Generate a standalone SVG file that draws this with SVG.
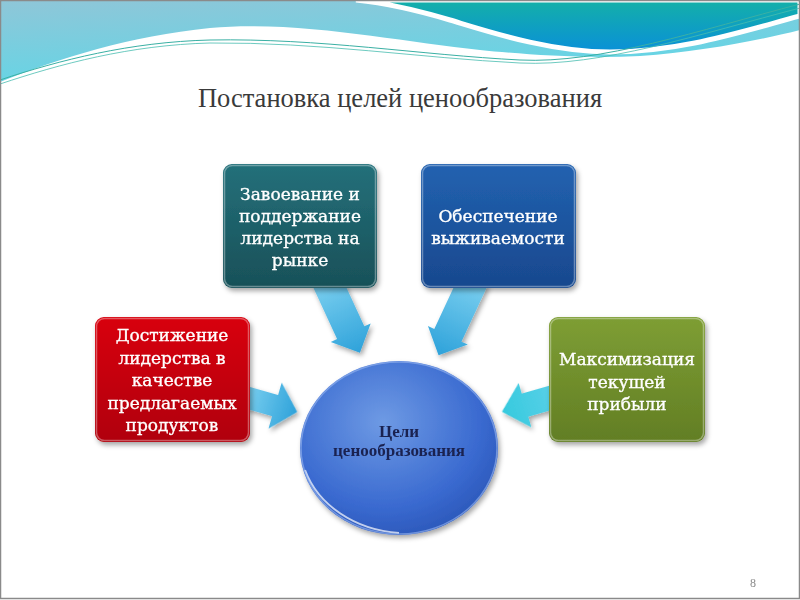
<svg xmlns="http://www.w3.org/2000/svg" width="800" height="600" viewBox="0 0 800 600">
<defs>
<style>
.box text{font-family:"DejaVu Serif","Liberation Serif",serif;font-size:17px;fill:#ffffff;stroke:#ffffff;stroke-width:0.35;text-anchor:middle}
.title{font-family:"Liberation Serif",serif;font-size:26.5px;fill:#3a3a3a;text-anchor:middle}
.ctext{font-family:"Liberation Serif",serif;font-size:17px;font-weight:bold;fill:#1a2250;text-anchor:middle}
.bevel{fill:none;stroke:#ffffff;stroke-opacity:0.35;stroke-width:1.5}
</style>
<linearGradient id="gLight" x1="0" y1="0" x2="0.4" y2="1">
<stop offset="0" stop-color="#8fc6d8"/><stop offset="1" stop-color="#62d6e6"/>
</linearGradient>
<linearGradient id="gTeal" x1="0" y1="0" x2="0" y2="1">
<stop offset="0" stop-color="#14b0a8"/><stop offset="1" stop-color="#0a90d8"/>
</linearGradient>
<linearGradient id="gBoxT" x1="0" y1="0" x2="0" y2="1"><stop offset="0" stop-color="#24707a"/><stop offset="1" stop-color="#185058"/></linearGradient>
<linearGradient id="gBoxB" x1="0" y1="0" x2="0" y2="1"><stop offset="0" stop-color="#2262b0"/><stop offset="1" stop-color="#18488e"/></linearGradient>
<linearGradient id="gBoxR" x1="0" y1="0" x2="0" y2="1"><stop offset="0" stop-color="#d8000e"/><stop offset="1" stop-color="#b00008"/></linearGradient>
<linearGradient id="gBoxG" x1="0" y1="0" x2="0" y2="1"><stop offset="0" stop-color="#7e9e34"/><stop offset="1" stop-color="#627e24"/></linearGradient>
<linearGradient id="gArr" x1="0" y1="0" x2="1" y2="0"><stop offset="0" stop-color="#7cd0f0"/><stop offset="1" stop-color="#2ea2da"/></linearGradient>
<linearGradient id="gArrC" x1="0" y1="0" x2="1" y2="0"><stop offset="0" stop-color="#5ad0e8"/><stop offset="1" stop-color="#36cade"/></linearGradient>
<radialGradient id="gEll" cx="0.42" cy="0.35" r="0.7">
<stop offset="0" stop-color="#6e9ae4"/><stop offset="0.7" stop-color="#3a6ad0"/><stop offset="1" stop-color="#2a56b8"/>
</radialGradient>
<filter id="sh" x="-20%" y="-20%" width="140%" height="150%">
<feDropShadow dx="2" dy="3" stdDeviation="2.5" flood-color="#000" flood-opacity="0.35"/>
</filter>
</defs>
<rect x="0" y="0" width="800" height="600" fill="#ffffff"/>
<g id="background">
<path d="M0,0 H800 V30 C760,40 700,52 640,56 C580,59 520,54 480,50 C400,42 300,20 210,28 C130,36 60,58 0,82 Z" fill="url(#gLight)"/>
<path d="M356,0 H800 V16 C740,32 680,52 610,52 C550,52 490,32 450,20 C410,8 385,3 356,0 Z" fill="url(#gTeal)" stroke="#ffffff" stroke-width="5"/>
<path d="M0,80 C60,60 130,42 210,40 C320,38 420,55 520,60 C600,64 700,30 800,4" fill="none" stroke="#3ab0a4" stroke-width="1"/>
<path d="M0,84 C60,64 130,45 210,43 C320,42 420,58 520,63 C600,67 700,34 800,8" fill="none" stroke="#48bcb0" stroke-width="0.8"/>
<rect x="0.5" y="0.5" width="799" height="598" fill="none" stroke="#8a8a8a" stroke-width="1.5"/>
</g>
<text class="title" x="400" y="107">Постановка целей ценообразования</text>
<g id="connectors" filter="url(#sh)">
<polygon transform="translate(331,290) rotate(65.2)" points="-12,-15 47,-15 47,-22 69,0 47,22 47,15 -12,15" fill="url(#gArr)"/>
<polygon transform="translate(469,290) rotate(115)" points="-12,-15 50,-15 50,-22 72,0 50,22 50,15 -12,15" fill="url(#gArr)"/>
<polygon transform="translate(252,399) rotate(16)" points="-8,-11 24,-11 24,-24 47,0 24,24 24,11 -8,11" fill="url(#gArr)"/>
<polygon transform="translate(550,398) rotate(164)" points="-8,-12 26,-12 26,-23 50,0 26,23 26,12 -8,12" fill="url(#gArrC)"/>
</g>
<g id="node-lead-market" class="box">
<rect x="223" y="164" width="154" height="124" rx="9" fill="url(#gBoxT)" filter="url(#sh)"/>
<rect x="224.5" y="165.5" width="151" height="121" rx="8" class="bevel"/>
<text x="300" y="200">Завоевание и</text>
<text x="300" y="222">поддержание</text>
<text x="300" y="244">лидерства на</text>
<text x="300" y="266">рынке</text>
</g>
<g id="node-survival" class="box">
<rect x="421" y="164" width="155" height="124" rx="9" fill="url(#gBoxB)" filter="url(#sh)"/>
<rect x="422.5" y="165.5" width="152" height="121" rx="8" class="bevel"/>
<text x="498" y="222">Обеспечение</text>
<text x="498" y="244">выживаемости</text>
</g>
<g id="node-quality" class="box">
<rect x="95" y="317" width="155" height="125" rx="9" fill="url(#gBoxR)" filter="url(#sh)"/>
<rect x="96.5" y="318.5" width="152" height="122" rx="8" class="bevel"/>
<text x="172" y="341">Достижение</text>
<text x="172" y="364">лидерства в</text>
<text x="172" y="386">качестве</text>
<text x="172" y="409">предлагаемых</text>
<text x="172" y="431">продуктов</text>
</g>
<g id="node-profit" class="box">
<rect x="549" y="317" width="156" height="125" rx="9" fill="url(#gBoxG)" filter="url(#sh)"/>
<rect x="550.5" y="318.5" width="153" height="122" rx="8" class="bevel"/>
<text x="627" y="365">Максимизация</text>
<text x="627" y="388">текущей</text>
<text x="627" y="410">прибыли</text>
</g>
<g id="node-center">
<ellipse cx="399" cy="448" rx="99" ry="87" fill="url(#gEll)" filter="url(#sh)"/>
<path d="M305,470 C318,505 355,530 399,533" fill="none" stroke="#ffffff" stroke-opacity="0.7" stroke-width="2"/>
<ellipse cx="399" cy="448" rx="98" ry="86" fill="none" stroke="#9ab8f0" stroke-opacity="0.6" stroke-width="1.5"/>
<text class="ctext" x="399" y="437">Цели</text>
<text class="ctext" x="399" y="456">ценообразования</text>
</g>
<text x="753" y="587" font-family="Liberation Serif,serif" font-size="12" fill="#8a8a8a" text-anchor="middle">8</text>
</svg>
